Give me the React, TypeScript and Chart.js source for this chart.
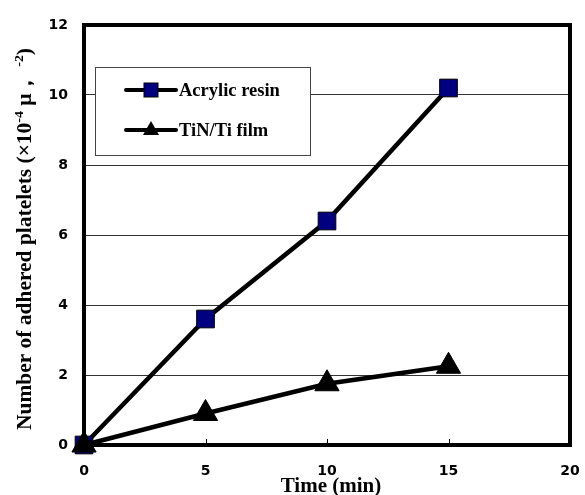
import React, { useEffect, useRef } from "react";
import { Chart, registerables } from "chart.js";
Chart.register(...registerables);

const times = [0, 5, 10, 15];
const acrylicResin = [0, 3.6, 6.4, 10.2];
const tinTiFilm = [0, 0.9, 1.75, 2.25];
const xTicks = [0, 5, 10, 15, 20];
const yTicks = [0, 2, 4, 6, 8, 10, 12];
const seriesNames = ["Acrylic resin", "TiN/Ti film"];

const serif = "'Liberation Serif', 'Times New Roman', serif";
const sans = "'DejaVu Sans', sans-serif";

const customPlugin = {
  id: "custom",
  beforeDatasetsDraw(chart: any) {
    const { ctx, chartArea: a, scales } = chart;
    ctx.save();
    ctx.strokeStyle = "#000";
    ctx.lineWidth = 1;
    for (const v of [5, 10, 15]) {
      const x = Math.round(scales.x.getPixelForValue(v)) + 0.5;
      ctx.beginPath();
      ctx.moveTo(x, a.bottom);
      ctx.lineTo(x, a.bottom - 6);
      ctx.stroke();
    }
    ctx.lineWidth = 4;
    ctx.strokeRect(a.left, a.top, a.right - a.left, a.bottom - a.top);
    ctx.restore();
  },
  afterDraw(chart: any) {
    const { ctx } = chart;
    ctx.save();
    // legend
    const bx = 95.5, by = 67.5, bw = 215, bh = 88;
    ctx.fillStyle = "#fff";
    ctx.fillRect(bx, by, bw, bh);
    ctx.strokeStyle = "#444";
    ctx.lineWidth = 1;
    ctx.strokeRect(bx, by, bw, bh);
    const rows = [90, 130];
    ctx.lineCap = "round";
    for (let i = 0; i < 2; i++) {
      const y = rows[i];
      ctx.strokeStyle = "#000";
      ctx.lineWidth = 4;
      ctx.beginPath();
      ctx.moveTo(126, y);
      ctx.lineTo(176, y);
      ctx.stroke();
      if (i === 0) {
        ctx.fillStyle = "#000080";
        ctx.fillRect(144, y - 7, 14, 14);
        ctx.lineWidth = 1;
        ctx.strokeStyle = "#000";
        ctx.strokeRect(144, y - 7, 14, 14);
      } else {
        ctx.fillStyle = "#000";
        ctx.beginPath();
        ctx.moveTo(151, y - 9);
        ctx.lineTo(159, y + 5);
        ctx.lineTo(143, y + 5);
        ctx.closePath();
        ctx.fill();
      }
      ctx.fillStyle = "#000";
      ctx.font = `bold 18.5px ${serif}`;
      ctx.textAlign = "left";
      ctx.textBaseline = "alphabetic";
      ctx.fillText(seriesNames[i], 179, y + 6);
    }
    // x title
    ctx.font = `bold 21px ${serif}`;
    ctx.textAlign = "center";
    ctx.textBaseline = "alphabetic";
    ctx.fillText("Time (min)", 331, 492);
    // y title
    ctx.translate(31, 239);
    ctx.rotate(-Math.PI / 2);
    const parts: [string, boolean][] = [
      ["Number of adhered platelets (\u00d710", false],
      ["-4", true],
      [" \u03bc\uff0c ", false],
      ["-2", true],
      [")", false],
    ];
    const normal = `bold 20px ${serif}`;
    const sup = `bold 13px ${serif}`;
    let total = 0;
    for (const [t, s] of parts) {
      ctx.font = s ? sup : normal;
      total += ctx.measureText(t).width;
    }
    const sx = 382 / total;
    ctx.scale(sx, 1);
    let x = -total / 2;
    ctx.textAlign = "left";
    for (const [t, s] of parts) {
      ctx.font = s ? sup : normal;
      ctx.fillText(t, x, s ? -8 : 0);
      x += ctx.measureText(t).width;
    }
    ctx.restore();
  },
};

export default function App() {
  const ref = useRef<HTMLCanvasElement>(null);
  useEffect(() => {
    document.body.style.margin = "0";
    const chart = new Chart(ref.current!, {
      type: "line",
      data: {
        datasets: [
          {
            label: seriesNames[0],
            data: times.map((t, i) => ({ x: t, y: acrylicResin[i] })),
            borderColor: "#000",
            borderWidth: 4.5,
            pointStyle: "rect",
            pointRadius: 12.5,
            pointBackgroundColor: "#000080",
            pointBorderColor: "#000",
            pointBorderWidth: 1,
            clip: false as any,
            order: 1,
          },
          {
            label: seriesNames[1],
            data: times.map((t, i) => ({ x: t, y: tinTiFilm[i] })),
            borderColor: "#000",
            borderWidth: 4.5,
            pointStyle: "triangle",
            pointRadius: 14,
            pointBackgroundColor: "#000",
            pointBorderColor: "#000",
            pointBorderWidth: 1,
            clip: false as any,
            order: 0,
          },
        ],
      },
      options: {
        animation: false,
        responsive: false,
        layout: { padding: { top: 25, right: 13, left: 0, bottom: 0 } },
        plugins: { legend: { display: false }, tooltip: { enabled: false } },
        scales: {
          x: {
            type: "linear",
            min: 0,
            max: 20,
            afterBuildTicks: (s: any) => {
              s.ticks = xTicks.map((v) => ({ value: v }));
            },
            afterFit: (s: any) => {
              s.height = 50;
              s.paddingLeft = 0;
              s.paddingRight = 0;
            },
            grid: { display: false, drawTicks: false },
            border: { display: false },
            ticks: { color: "#000", font: { family: sans, weight: "bold", size: 14 }, padding: 18, maxRotation: 0 },
          },
          y: {
            type: "linear",
            min: 0,
            max: 12,
            afterBuildTicks: (s: any) => {
              s.ticks = yTicks.map((v) => ({ value: v }));
            },
            afterFit: (s: any) => {
              s.width = 84;
              s.paddingTop = 0;
              s.paddingBottom = 0;
            },
            grid: { color: "#333", lineWidth: 1, drawTicks: false },
            border: { display: false },
            ticks: { color: "#000", font: { family: sans, weight: "bold", size: 14 }, padding: 16 },
          },
        },
      },
      plugins: [customPlugin],
    });
    return () => chart.destroy();
  }, []);
  return (
    <div style={{ position: "absolute", left: 0, top: 0, width: 585, height: 495, background: "#fff" }}>
      <canvas ref={ref} width={585} height={495} />
    </div>
  );
}
